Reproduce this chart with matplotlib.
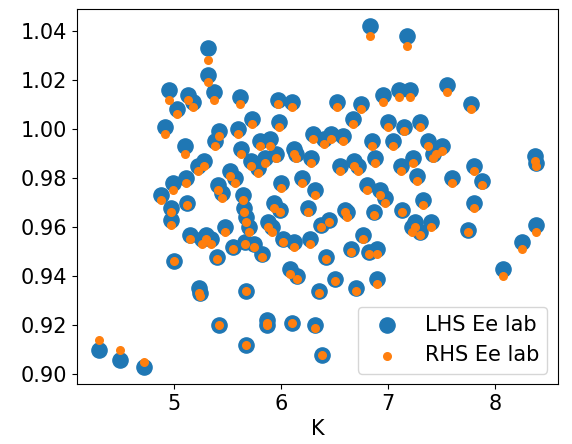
import matplotlib
matplotlib.use("Agg")
import matplotlib.pyplot as plt

K = [4.30,4.50,4.72,4.88,4.92,4.95,4.97,4.97,4.99,5.00,5.03,5.10,5.11,5.12,5.13,5.15,5.18,5.22,5.23,5.24,
     5.26,5.28,5.30,5.32,5.32,5.35,5.37,5.38,5.40,5.41,5.42,5.42,5.45,5.48,5.52,5.55,5.57,5.60,5.62,5.63,
     5.64,5.65,5.66,5.67,5.67,5.67,5.70,5.72,5.73,5.75,5.78,5.80,5.82,5.85,5.87,5.87,5.88,5.90,5.92,5.93,
     5.95,5.97,5.98,5.99,6.00,6.02,6.08,6.10,6.10,6.12,6.12,6.14,6.15,6.20,6.25,6.27,6.28,6.30,6.32,6.32,
     6.35,6.37,6.38,6.40,6.42,6.45,6.47,6.50,6.52,6.55,6.58,6.60,6.62,6.65,6.67,6.68,6.70,6.72,6.75,6.77,
     6.80,6.82,6.83,6.85,6.87,6.88,6.90,6.90,6.92,6.95,6.97,7.00,7.05,7.10,7.12,7.13,7.15,7.18,7.20,7.22,
     7.23,7.25,7.27,7.30,7.30,7.33,7.37,7.40,7.42,7.45,7.50,7.55,7.60,7.75,7.77,7.80,7.80,7.88,8.07,8.25,
     8.37,8.38,8.38]
lhs = [0.910,0.906,0.903,0.973,1.001,1.016,0.968,0.963,0.978,0.946,1.008,0.993,0.980,0.970,1.014,0.957,1.011,0.985,0.935,0.933,
       0.955,0.987,0.957,1.033,1.022,0.955,1.015,0.995,0.948,0.977,0.999,0.920,0.974,0.960,0.983,0.952,0.980,1.000,1.013,0.992,
       0.973,0.968,0.954,0.934,0.912,0.964,0.960,0.987,1.004,0.953,0.984,0.995,0.949,0.988,0.922,0.920,0.962,0.996,0.960,0.970,
       0.990,1.012,1.003,0.967,0.978,0.955,0.943,1.011,0.921,0.954,0.992,0.990,0.940,0.980,0.968,0.955,0.988,0.998,0.975,0.920,
       0.934,0.961,0.908,0.996,0.948,0.963,0.998,0.939,1.011,0.985,0.997,0.967,0.966,0.951,1.004,0.987,0.935,0.985,1.010,0.957,
       0.977,0.950,1.042,0.995,0.966,0.988,0.951,0.939,0.975,1.014,0.972,1.003,0.995,1.016,0.985,0.967,1.001,1.038,1.016,0.960,
       0.988,0.962,0.981,1.003,0.958,0.971,0.995,0.962,0.990,0.992,0.993,1.018,0.980,0.959,1.010,0.985,0.970,0.979,0.943,0.954,
       0.989,0.986,0.961]
rhs = [0.914,0.910,0.905,0.971,0.998,1.012,0.966,0.961,0.975,0.946,1.006,0.990,0.978,0.969,1.012,0.955,1.009,0.983,0.933,0.932,
       0.953,0.985,0.955,1.028,1.019,0.953,1.012,0.993,0.947,0.975,0.997,0.920,0.972,0.958,0.981,0.951,0.978,0.998,1.010,0.990,
       0.971,0.966,0.953,0.934,0.912,0.962,0.958,0.985,1.002,0.952,0.982,0.993,0.948,0.986,0.921,0.920,0.960,0.993,0.958,0.968,
       0.988,1.010,1.001,0.966,0.976,0.954,0.941,1.009,0.921,0.952,0.990,0.988,0.939,0.978,0.966,0.953,0.986,0.996,0.973,0.919,
       0.933,0.960,0.908,0.994,0.947,0.962,0.996,0.938,1.009,0.983,0.995,0.966,0.964,0.950,1.002,0.985,0.934,0.983,1.008,0.955,
       0.975,0.949,1.038,0.993,0.965,0.986,0.949,0.937,0.973,1.011,0.970,1.001,0.993,1.013,0.983,0.966,0.999,1.034,1.013,0.958,
       0.986,0.960,0.979,1.001,0.957,0.969,0.993,0.960,0.988,0.990,0.991,1.015,0.978,0.958,1.008,0.983,0.968,0.977,0.940,0.951,
       0.987,0.985,0.958]

plt.rcParams['font.size'] = 15
fig, ax = plt.subplots(figsize=(5.72, 4.44), dpi=100)
ax.scatter(K, lhs, s=120, color='#1f77b4', label='LHS Ee lab')
ax.scatter(K, rhs, s=30, color='#ff7f0e', label='RHS Ee lab')
ax.set_xlabel('K')
ax.set_yticks([0.90,0.92,0.94,0.96,0.98,1.00,1.02,1.04])
ax.legend(loc='lower right')
fig.subplots_adjust(left=0.135, right=0.975, bottom=0.135, top=0.98)
fig.savefig('out.png')
